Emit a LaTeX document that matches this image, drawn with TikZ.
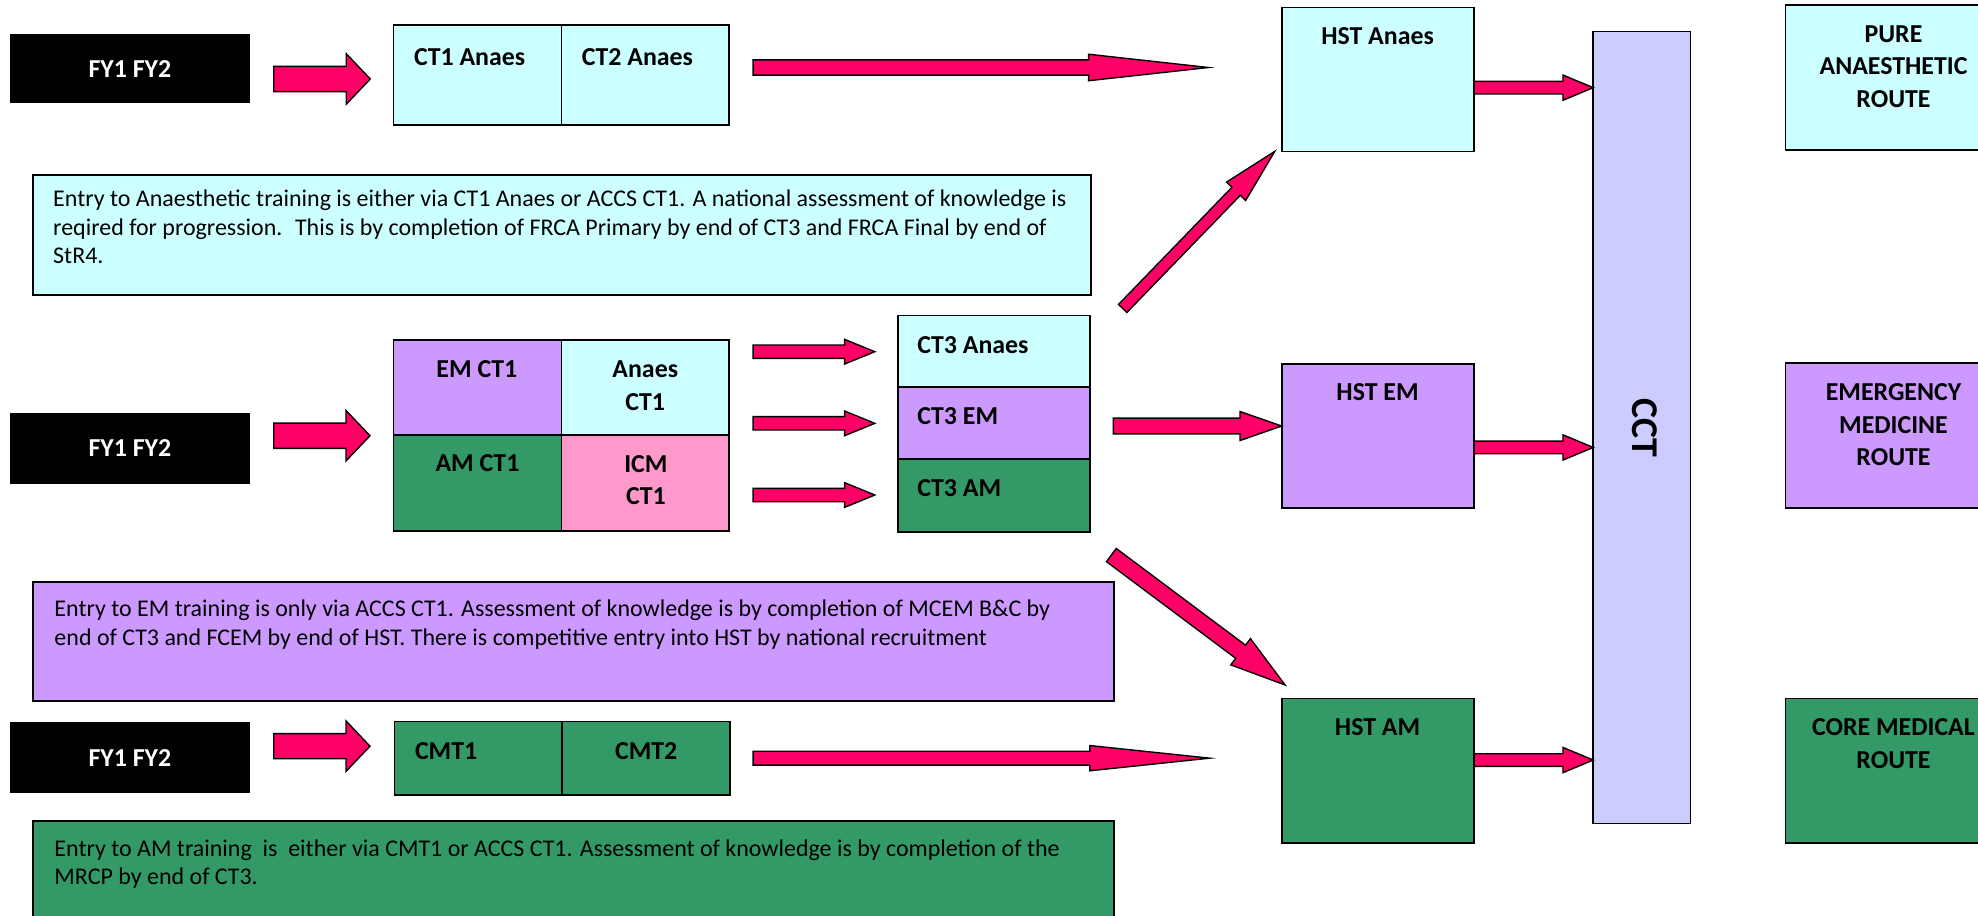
\documentclass[tikz,border=0pt]{standalone}
\usepackage{fontspec}
\setmainfont{Carlito}
\usetikzlibrary{calc}
\definecolor{cyanb}{HTML}{CCFFFF}
\definecolor{purpb}{HTML}{CC99FF}
\definecolor{greenb}{HTML}{339966}
\definecolor{pinkb}{HTML}{FF99CC}
\definecolor{cctb}{HTML}{CCCCFF}
\definecolor{arrowred}{HTML}{FF0066}
\tikzset{
  box/.style={draw=black, line width=1.3pt, inner sep=0pt, outer sep=0pt, anchor=north west},
  fybox/.style={fill=black, inner sep=0pt, outer sep=0pt, anchor=north west, minimum width=190pt},
  txtbox/.style={draw=black, line width=1.6pt, inner sep=0pt, outer sep=0pt, anchor=north west},
  barrow/.style={draw=black, line width=1.1pt, fill=arrowred, line join=miter},
  lab/.style={font=\bfseries\fontsize{20.5}{25.8}\selectfont, inner sep=0pt, align=center},
  txt/.style={font=\fontsize{19}{22.6}\selectfont, inner sep=0pt, align=left, anchor=north west},
}
% #1 tail, #2 tip, #3 body half width, #4 head half width, #5 head length
\newcommand\blockarrow[5]{%
  \coordinate (bah) at ($(#2)!#5!(#1)$);
  \draw[barrow] ($(#1)!#3!90:(#2)$) -- ($(bah)!#3!90:(#2)$) -- ($(bah)!#4!90:(#2)$) -- (#2)
    -- ($(bah)!#4!-90:(#2)$) -- ($(bah)!#3!-90:(#2)$) -- ($(#1)!#3!-90:(#2)$) -- cycle;
}
\begin{document}
\begin{tikzpicture}[x=1pt,y=-1pt]
\useasboundingbox (0,0) rectangle (1568,726);
\fill[white] (0,0) rectangle (1568,726);
\clip (0,0) rectangle (1568,726);

% ---------- text boxes ----------
\node[txtbox, fill=cyanb, minimum width=839pt, minimum height=95pt] (t1) at (26,139) {};
\node[txtbox, fill=purpb, minimum width=856.5pt, minimum height=95pt] (t2) at (26.5,461) {};
\node[txtbox, fill=greenb, minimum width=856.5pt, minimum height=110pt] (t3) at (26.5,650.8) {};
\node[txt] (t1t) at (42,150.5) {Entry to Anaesthetic training is either via CT1 Anaes or ACCS CT1. A national assessment of knowledge is\\reqired for progression.~ This is by completion of FRCA Primary by end of CT3 and FRCA Final by end of\\StR4.};
\node[txt] (t2t) at (43,475.5) {Entry to EM training is only via ACCS CT1. Assessment of knowledge is by completion of MCEM B\&C by\\end of CT3 and FCEM by end of HST. There is competitive entry into HST by national recruitment};
\node[txt] (t3t) at (43,665.5) {Entry to AM training~ is~ either via CMT1 or ACCS CT1. Assessment of knowledge is by completion of the\\MRCP by end of CT3.};

% ---------- FY boxes ----------
\node[fybox, minimum height=55pt] (fy1) at (8,27) {};
\node[fybox, minimum height=57pt] (fy2) at (8,327) {};
\node[fybox, minimum height=56.5pt] (fy3) at (8,572.5) {};
\node[lab, text=white] (fy1t) at (fy1.center) {FY1 FY2};
\node[lab, text=white] (fy2t) at (fy2.center) {FY1 FY2};
\node[lab, text=white] (fy3t) at (fy3.center) {FY1 FY2};

% ---------- row 1 ----------
\node[box, fill=cyanb, minimum width=133pt, minimum height=79pt] (ct1) at (312,20) {};
\node[box, fill=cyanb, minimum width=133pt, minimum height=79pt] (ct2) at (445,20) {};
\node[lab, anchor=west] (ct1t) at (328,45) {CT1 Anaes};
\node[lab, anchor=west] (ct2t) at (461,45) {CT2 Anaes};

% ---------- row 2 grid ----------
\node[box, fill=purpb, minimum width=133pt, minimum height=75.5pt] (emct1) at (312,269.5) {};
\node[box, fill=cyanb, minimum width=133pt, minimum height=75.5pt] (anct1) at (445,269.5) {};
\node[box, fill=greenb, minimum width=133pt, minimum height=76pt] (amct1) at (312,345) {};
\node[box, fill=pinkb, minimum width=133pt, minimum height=76pt] (icmct1) at (445,345) {};
\node[lab] (emct1t) at (378,292.6) {EM CT1};
\node[lab, anchor=north] (anct1t) at (511.5,286) {Anaes\\CT1};
\node[lab] (amct1t) at (378.5,367.3) {AM CT1};
\node[lab, anchor=north] (icmct1t) at (512,360.7) {ICM\\CT1};

% ---------- CT3 stack ----------
\node[box, fill=cyanb, minimum width=152pt, minimum height=57pt] (ct3a) at (712,250) {};
\node[box, fill=purpb, minimum width=152pt, minimum height=57pt] (ct3e) at (712,307) {};
\node[box, fill=greenb, minimum width=152pt, minimum height=57.5pt] (ct3m) at (712,364) {};
\node[lab, anchor=west] (ct3at) at (727,273.5) {CT3 Anaes};
\node[lab, anchor=west] (ct3et) at (727,330) {CT3 EM};
\node[lab, anchor=west] (ct3mt) at (727,387) {CT3 AM};

% ---------- row 3 ----------
\node[box, fill=greenb, minimum width=132.7pt, minimum height=58pt] (cmt1) at (312.8,572) {};
\node[box, fill=greenb, minimum width=133pt, minimum height=58pt] (cmt2) at (445.5,572) {};
\node[lab, anchor=west] (cmt1t) at (328.8,595.8) {CMT1};
\node[lab, anchor=west] (cmt2t) at (487.4,595.8) {CMT2};

% ---------- HST ----------
\node[box, fill=cyanb, minimum width=152.5pt, minimum height=114pt] (hsta) at (1016,6) {};
\node[box, fill=purpb, minimum width=152.5pt, minimum height=114pt] (hste) at (1016,288.5) {};
\node[box, fill=greenb, minimum width=152.5pt, minimum height=114.5pt] (hstm) at (1016,553.6) {};
\node[lab] (hstat) at (1092,28.5) {HST Anaes};
\node[lab] (hstet) at (1092,310.5) {HST EM};
\node[lab] (hstmt) at (1092,576) {HST AM};

% ---------- CCT ----------
\node[box, fill=cctb, minimum width=77pt, minimum height=627.7pt] (cct) at (1263,25) {};
\node[font=\bfseries\fontsize{30}{30}\selectfont, inner sep=0pt, rotate=-90] (cctt) at (1304,339.5) {CCT};

% ---------- routes ----------
\node[box, fill=cyanb, minimum width=172pt, minimum height=115pt] (pure) at (1415.5,4) {};
\node[box, fill=purpb, minimum width=172pt, minimum height=114.7pt] (emr) at (1415.5,288) {};
\node[box, fill=greenb, minimum width=172pt, minimum height=114.5pt] (core) at (1415.5,553.6) {};
\node[lab, anchor=north] (puret) at (1501,19.8) {PURE\\ANAESTHETIC\\ROUTE};
\node[lab, anchor=north] (emrt) at (1501,303.9) {EMERGENCY\\MEDICINE\\ROUTE};
\node[lab, anchor=north] (coret) at (1501,569.4) {CORE MEDICAL\\ROUTE};

% ---------- arrow end points ----------
\coordinate (a1s) at (217,62.6);   \coordinate (a1e) at (293.5,62.6);
\coordinate (a2s) at (217,345.4);  \coordinate (a2e) at (293.3,345.4);
\coordinate (a3s) at (217,591.5);  \coordinate (a3e) at (293.3,591.5);
\coordinate (l1s) at (597,53.5);   \coordinate (l1e) at (958,53.5);
\coordinate (l3s) at (597,601);    \coordinate (l3e) at (959,601);
\coordinate (m1s) at (597,278.8);  \coordinate (m1e) at (693.5,278.8);
\coordinate (m2s) at (597,335.6);  \coordinate (m2e) at (693.5,335.6);
\coordinate (m3s) at (597,392.4);  \coordinate (m3e) at (693.5,392.4);
\coordinate (ees) at (882.5,337.7);
\coordinate (dus) at (890,244.5);  \coordinate (due) at (1010.5,120);
\coordinate (dds) at (881,440);    \coordinate (dde) at (1018.7,543);

% ---------- block arrows ----------
\blockarrow{a1s}{a1e}{10pt}{20pt}{19pt}
\blockarrow{a2s}{a2e}{10pt}{20pt}{19pt}
\blockarrow{a3s}{a3e}{10pt}{20pt}{19pt}
\blockarrow{l1s}{l1e}{6pt}{10.5pt}{95pt}
\blockarrow{l3s}{l3e}{5.5pt}{10pt}{95pt}
\blockarrow{m1s}{m1e}{5.3pt}{9.8pt}{24pt}
\blockarrow{m2s}{m2e}{5.3pt}{9.8pt}{24pt}
\blockarrow{m3s}{m3e}{5.3pt}{9.8pt}{24pt}
\blockarrow{ees}{hste.west |- ees}{6.2pt}{11.5pt}{33pt}
\blockarrow{hsta.east |- 0,69.5}{cct.west |- 0,69.5}{5pt}{10pt}{24pt}
\blockarrow{hste.east |- 0,354.7}{cct.west |- 0,354.7}{5pt}{10pt}{24pt}
\blockarrow{hstm.east |- 0,602.5}{cct.west |- 0,602.5}{5pt}{10pt}{24pt}
\blockarrow{dus}{due}{4.6pt}{10.5pt}{44pt}
\blockarrow{dds}{dde}{6.5pt}{13pt}{44pt}
\end{tikzpicture}
\end{document}
